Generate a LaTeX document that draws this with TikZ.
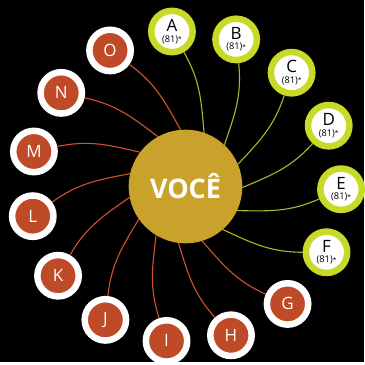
\documentclass[tikz,border=0pt]{standalone}
\usepackage{fontspec}
\setmainfont{Open Sans}
\definecolor{hubgold}{HTML}{C9A22B}
\definecolor{limering}{HTML}{C8DA28}
\definecolor{limewire}{HTML}{AAB82C}
\definecolor{brick}{HTML}{BE4A28}
\definecolor{brickwire}{HTML}{D2522C}
\begin{document}
\begin{tikzpicture}[x=1pt,y=1pt,
	hub/.style={circle,fill=hubgold,minimum size=114pt,inner sep=0pt,text=white,font=\bfseries\fontsize{27}{27}\selectfont},
	limenode/.style={circle,fill=white,draw=limering,line width=6.5pt,minimum size=41.5pt,inner sep=0pt,align=center,text=black,font=\fontsize{17}{10.5}\selectfont},
	bricknode/.style={circle,fill=brick,draw=white,line width=6.5pt,minimum size=41.5pt,inner sep=0pt,text=white,font=\fontsize{17}{17}\selectfont},
	limeline/.style={draw=limewire,line width=1.1pt},
	brickline/.style={draw=brickwire,line width=1.1pt}]
	\fill[black] (-186,-176) rectangle (179,187);
	\node[hub] (voce) at (0,0) {VOCÊ};
	\foreach \ang/\name in {95/A,71/B,47/C,23/D,-1/E,-25/F}{
		\node[limenode] (\name) at (\ang:156) {\name\\{\fontsize{9.3}{10.5}\selectfont (81)\raisebox{0.5pt}{\fontsize{6.5}{6.5}\selectfont*}}};
		\pgfmathtruncatemacro\endang{\ang-24}
		\draw[limeline] (\name) to[out=\ang+205, in=\ang] (voce.\endang);
	}
	\foreach \ang/\name in {-49/G,-73/H,-97/I,-121/J,-145/K,-169/L,167/M,143/N,119/O}{
		\node[bricknode] (\name) at (\ang:156) {\name};
		\pgfmathtruncatemacro\endang{\ang-24}
		\draw[brickline] (\name) to[out=\ang+205, in=\ang] (voce.\endang);
	}
\end{tikzpicture}
\end{document}
